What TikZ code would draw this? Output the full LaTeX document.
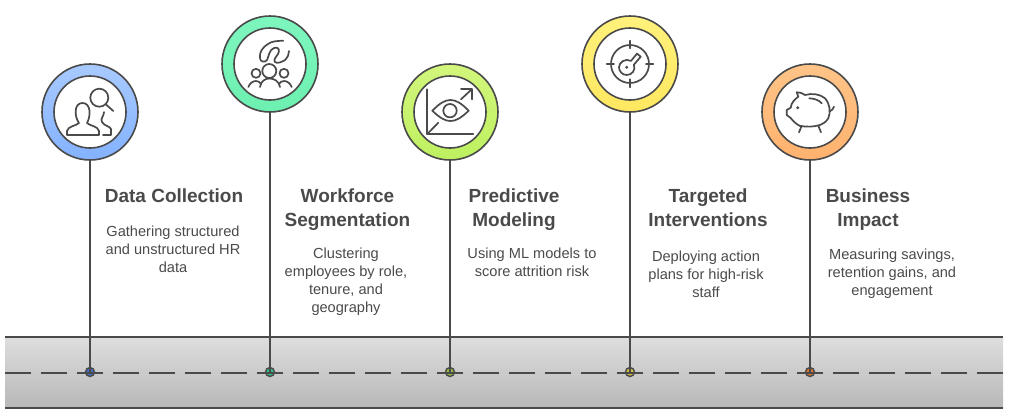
\documentclass[tikz,border=0pt]{standalone}
\usepackage{fontspec}
\setmainfont{Liberation Sans}
\usepackage{tikz}

\definecolor{ink}{HTML}{4A4A4A}
\tikzset{
ring/.style={shape=circle, draw=ink, line width=1.6pt, minimum size=96pt, inner sep=0pt, outer sep=0pt},
hole/.style={shape=circle, draw=ink, fill=white, line width=1.6pt, minimum size=72pt, inner sep=0pt, outer sep=0pt},
dot/.style={shape=circle, draw=ink, line width=1.4pt, minimum size=9pt, inner sep=0pt, outer sep=0pt},
stem/.style={draw=ink, line width=2pt},
icon/.style={draw=ink, line width=1.7pt, line cap=round, line join=round},
headline/.style={text=ink, align=center, font=\fontsize{19}{24}\selectfont\bfseries, inner sep=0pt},
blurb/.style={text=ink, align=center, font=\fontsize{14.6}{18}\selectfont, inner sep=0pt}
}

\begin{document}
\begin{tikzpicture}
[x=1pt, y=-1pt]
\useasboundingbox (0,0) rectangle (1009,418);

\coordinate (laneTopW) at (5,337);
\coordinate (laneTopE) at (1003,337);
\coordinate (laneMidW) at (5,373);
\coordinate (laneMidE) at (1003,373);
\coordinate (laneLowW) at (5,408);
\coordinate (laneLowE) at (1003,408);
\shade[top color=black!13, bottom color=black!28] (laneTopW) rectangle (laneLowE);
\draw[stem] (laneTopW) -- (laneTopE);
\draw[stem] (laneLowW) -- (laneLowE);

\node[dot, fill={rgb,255:red,66;green,112;blue,196}] (dotData) at (90,372) {};
\node[dot, fill={rgb,255:red,48;green,190;blue,134}] (dotWork) at (270,372) {};
\node[dot, fill={rgb,255:red,146;green,186;blue,64}] (dotPred) at (450,372) {};
\node[dot, fill={rgb,255:red,214;green,190;blue,64}] (dotTarg) at (630,372) {};
\node[dot, fill={rgb,255:red,214;green,116;blue,48}] (dotBiz) at (810,372) {};
\draw[stem, dash pattern=on 26pt off 10pt] (laneMidW) -- (laneMidE);

\node[ring, top color={rgb,255:red,168;green,202;blue,255}, bottom color={rgb,255:red,132;green,178;blue,255}] (ringData) at (90,112) {};
\node[ring, top color={rgb,255:red,126;green,246;blue,190}, bottom color={rgb,255:red,108;green,240;blue,176}] (ringWork) at (270,64) {};
\node[ring, top color={rgb,255:red,210;green,246;blue,124}, bottom color={rgb,255:red,190;green,240;blue,96}] (ringPred) at (450,112) {};
\node[ring, top color={rgb,255:red,255;green,241;blue,124}, bottom color={rgb,255:red,255;green,232;blue,96}] (ringTarg) at (630,64) {};
\node[ring, top color={rgb,255:red,255;green,196;blue,136}, bottom color={rgb,255:red,255;green,178;blue,110}] (ringBiz) at (810,112) {};
\node[hole] at (ringData) {};
\node[hole] at (ringWork) {};
\node[hole] at (ringPred) {};
\node[hole] at (ringTarg) {};
\node[hole] at (ringBiz) {};

\draw[stem] (ringData) ++(0,48) -- (dotData.center);
\draw[stem] (ringWork) ++(0,48) -- (dotWork.center);
\draw[stem] (ringPred) ++(0,48) -- (dotPred.center);
\draw[stem] (ringTarg) ++(0,48) -- (dotTarg.center);
\draw[stem] (ringBiz) ++(0,48) -- (dotBiz.center);

\draw[icon] (67,135) -- (67,131) .. controls (68,126) and (76,126) .. (79,123) .. controls (74,116) and (74,103) .. (82.5,103) .. controls (91,103) and (91,116) .. (87,123) .. controls (90,126) and (98,126) .. (99,131) -- (99,135) -- cycle;
\draw[icon] (104,112) .. controls (104,116) and (100,119) .. (102,122) .. controls (104,126) and (110,126) .. (111,129) -- (111,135) -- (103,135);
\draw[icon] (99.3,97.7) circle[radius=9];
\draw[icon] (106,104.5) -- (113.3,111);

\draw[icon] (269.3,71) circle[radius=7];
\draw[icon] (256,73.3) circle[radius=4.5];
\draw[icon] (284,73.3) circle[radius=4.5];
\draw[icon] (260,87) .. controls (261,81) and (265,78.5) .. (269.5,78.5) .. controls (274,78.5) and (279,81) .. (280,87);
\draw[icon] (248.3,87) .. controls (250,83) and (253,81) .. (256,81) .. controls (258,81) and (260,82) .. (261,84);
\draw[icon] (291.7,87) .. controls (290,83) and (287,81) .. (284,81) .. controls (282,81) and (280,82) .. (279,84);
\draw[icon] (283.3,40.7) .. controls (277,41) and (272,41) .. (268,44) .. controls (263,47) and (259,52) .. (260,58) .. controls (260,62) and (265,63) .. (267,60) .. controls (269,56) and (269,50) .. (274,48) .. controls (279,46) and (280,51) .. (278,54) .. controls (276,57) and (273,60) .. (275,62) .. controls (277,64) and (282,62) .. (285,60) .. controls (288,57) and (289,54) .. (289,51);

\draw[icon] (427.3,89.3) -- (427.3,134) -- (473.3,134);
\draw[icon] (427.3,134) -- (438.3,122.7);
\draw[icon] (432.3,110.7) .. controls (440,103) and (445,100) .. (450.5,100) .. controls (456,100) and (461,103) .. (468.7,110.7) .. controls (461,118) and (456,121) .. (450.5,121) .. controls (445,121) and (440,118) .. (432.3,110.7) -- cycle;
\draw[icon] (450,110.7) circle[radius=6.7];
\draw[icon] (461,99.3) -- (471.7,89.3);
\draw[icon] (461,89.3) -- (471.7,89.3) -- (471.7,99.3);

\draw[icon] (630,64) circle[radius=19];
\draw[icon] (630,40.7) -- (630,48.3);
\draw[icon] (630,79.3) -- (630,87.3);
\draw[icon] (606.7,64) -- (614,64);
\draw[icon] (646,64) -- (653.3,64);
\draw[icon] (631,60.9) -- (637,53.6) -- (640.7,56.7) -- (633.9,64.7) .. controls (636,70) and (632,75) .. (626.7,75) .. controls (622.5,75) and (619,71.5) .. (619,67.3) .. controls (619,62) and (625.5,58) .. (631,60.9) -- cycle;
\fill[ink] (626.7,67.3) circle[radius=1.6];

\draw[icon] (796.7,92.3) .. controls (799,92) and (802,93) .. (805,95) .. controls (812,93) and (820,94) .. (825,98.3) .. controls (830,104) and (831,112) .. (828.3,118.3) .. controls (826,122) and (823,124) .. (820,125) .. controls (813,127) and (807,127) .. (800,126) .. controls (796,124) and (793,121) .. (790.7,118) -- (786.7,115) -- (786.7,110) -- (790.7,107.7) .. controls (791,103) and (795,99) .. (798.3,96.7) -- cycle;
\draw[icon] (809.3,98.3) .. controls (814,98.5) and (819,100) .. (821.7,103.3);
\draw[icon] (829.3,111.7) .. controls (832,110.5) and (833,109) .. (834,106.7);
\draw[icon] (801.7,125.7) -- (799,132.3);
\draw[icon] (818.3,125.7) -- (821,132.3);
\fill[ink] (797.7,107.7) circle[radius=1.6];

\node[headline] (headData) at (174,196) {Data Collection};
\node[blurb] (blurbData) at (173,249) {Gathering structured\\and unstructured HR\\data};
\node[headline] (headWork) at (347.5,210) {Workforce\\Segmentation};
\node[blurb] (blurbWork) at (346,282) {Clustering\\employees by role,\\tenure, and\\geography};
\node[headline] (headPred) at (514,210) {Predictive\\Modeling};
\node[blurb] (blurbPred) at (532,262) {Using ML models to\\score attrition risk};
\node[headline] (headTarg) at (708,208) {Targeted\\Interventions};
\node[blurb] (blurbTarg) at (706,274) {Deploying action\\plans for high-risk\\staff};
\node[headline] (headBiz) at (868,210) {Business\\Impact};
\node[blurb] (blurbBiz) at (892,274) {Measuring savings,\\retention gains, and\\engagement};
\end{tikzpicture}
\end{document}
